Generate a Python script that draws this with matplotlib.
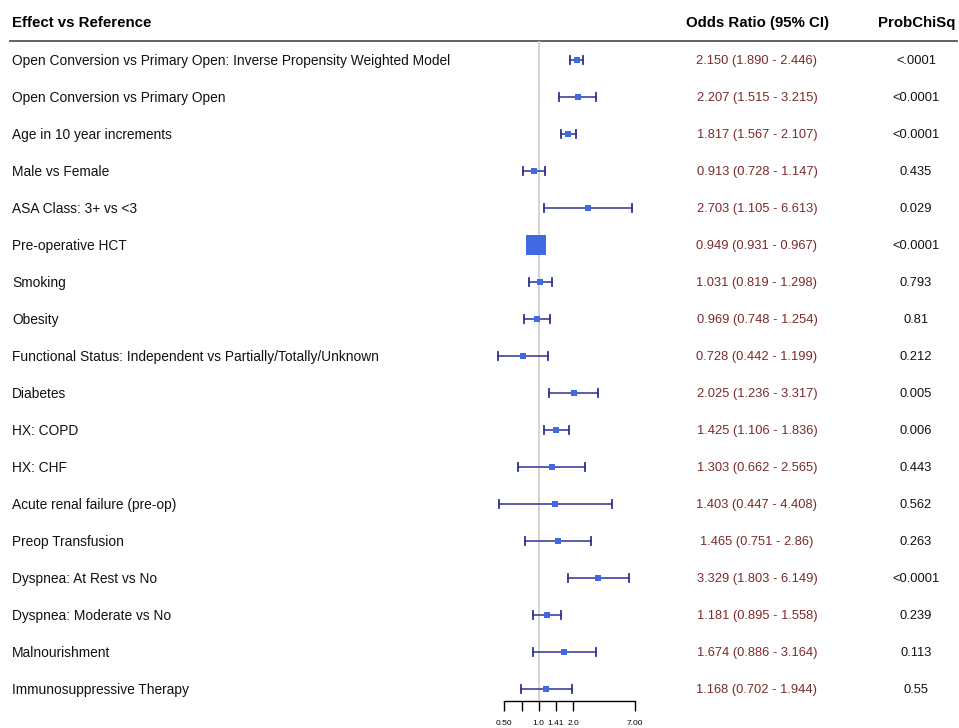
import numpy as np
import matplotlib
matplotlib.use("Agg")
import matplotlib.pyplot as plt
from matplotlib.lines import Line2D

plt.rcParams['font.family'] = ['Liberation Sans', 'DejaVu Sans']

labels = [
    "Open Conversion vs Primary Open: Inverse Propensity Weighted Model",
    "Open Conversion vs Primary Open",
    "Age in 10 year increments",
    "Male vs Female",
    "ASA Class: 3+ vs <3",
    "Pre-operative HCT",
    "Smoking",
    "Obesity",
    "Functional Status: Independent vs Partially/Totally/Unknown",
    "Diabetes",
    "HX: COPD",
    "HX: CHF",
    "Acute renal failure (pre-op)",
    "Preop Transfusion",
    "Dyspnea: At Rest vs No",
    "Dyspnea: Moderate vs No",
    "Malnourishment",
    "Immunosuppressive Therapy",
]
odds = [2.150, 2.207, 1.817, 0.913, 2.703, 0.949, 1.031, 0.969, 0.728, 2.025,
        1.425, 1.303, 1.403, 1.465, 3.329, 1.181, 1.674, 1.168]
lower = [1.890, 1.515, 1.567, 0.728, 1.105, 0.931, 0.819, 0.748, 0.442, 1.236,
         1.106, 0.662, 0.447, 0.751, 1.803, 0.895, 0.886, 0.702]
upper = [2.446, 3.215, 2.107, 1.147, 6.613, 0.967, 1.298, 1.254, 1.199, 3.317,
         1.836, 2.565, 4.408, 2.86, 6.149, 1.558, 3.164, 1.944]
or_text = ["2.150 (1.890 - 2.446)", "2.207 (1.515 - 3.215)", "1.817 (1.567 - 2.107)",
           "0.913 (0.728 - 1.147)", "2.703 (1.105 - 6.613)", "0.949 (0.931 - 0.967)",
           "1.031 (0.819 - 1.298)", "0.969 (0.748 - 1.254)", "0.728 (0.442 - 1.199)",
           "2.025 (1.236 - 3.317)", "1.425 (1.106 - 1.836)", "1.303 (0.662 - 2.565)",
           "1.403 (0.447 - 4.408)", "1.465 (0.751 - 2.86)", "3.329 (1.803 - 6.149)",
           "1.181 (0.895 - 1.558)", "1.674 (0.886 - 3.164)", "1.168 (0.702 - 1.944)"]
pvals = ["<.0001", "<0.0001", "<0.0001", "0.435", "0.029", "<0.0001", "0.793", "0.81",
         "0.212", "0.005", "0.006", "0.443", "0.562", "0.263", "<0.0001", "0.239",
         "0.113", "0.55"]
tick_vals = [0.5, 0.71, 1.0, 1.41, 2.0, 7.0]
tick_labels = ["0.50", "", "1.0", "1.41", "2.0", "7.00"]

W, H = 959, 728
fig = plt.figure(figsize=(W / 100, H / 100), dpi=100)

# background axes in pixel coordinates
bg = fig.add_axes([0, 0, 1, 1])
bg.set_xlim(0, W)
bg.set_ylim(H, 0)
bg.axis('off')

row_y0, row_dy = 60, 37
bg.text(12, 23, "Effect vs Reference", fontsize=10.8, fontweight='bold', va='center', ha='left')
bg.text(757, 23, "Odds Ratio (95% CI)", fontsize=10.8, fontweight='bold', va='center', ha='center')
bg.text(917, 23, "ProbChiSq", fontsize=10.8, fontweight='bold', va='center', ha='center')
bg.add_line(Line2D([10, 957], [41, 41], color='#555555', lw=1.3))

for i, (lab, ot, pv) in enumerate(zip(labels, or_text, pvals)):
    y = row_y0 + 1 + i * row_dy
    bg.text(12, y, lab, fontsize=9.9, va='center', ha='left', color='#111111')
    bg.text(757, y, ot, fontsize=9.3, va='center', ha='center', color='#7B2A2A')
    bg.text(916, y, pv, fontsize=9.3, va='center', ha='center', color='#111111')

# forest axes
px_per_log2 = 34.3
x_one = 538.7
xmin, xmax = 0.4, 8.0
left_px = x_one + np.log2(xmin) * px_per_log2
right_px = x_one + np.log2(xmax) * px_per_log2
top_px, bot_px = 41, 701
ax = fig.add_axes([left_px / W, 1 - bot_px / H, (right_px - left_px) / W, (bot_px - top_px) / H])
ax.patch.set_alpha(0)
ax.set_xscale('log')
ax.set_xlim(xmin, xmax)
ylo = (top_px - row_y0) / row_dy
yhi = (bot_px - row_y0) / row_dy
ax.set_ylim(yhi, ylo)

ax.axvline(1.0, color='#cccccc', lw=1.2, zorder=0)

n = len(odds)
for i in range(n):
    ax.plot([lower[i], upper[i]], [i, i], color='#2E3192', lw=1.3, alpha=0.85, zorder=2)
    for e in (lower[i], upper[i]):
        ax.plot([e, e], [i - 0.11, i + 0.11], color='#2E3192', lw=1.3, zorder=2)
    w = np.log(upper[i] / lower[i])
    px = float(np.clip(1.8 / w, 6.5, 20.0))
    ax.plot(odds[i], i, marker='s', color='#4169E1', markersize=px * 0.72,
            markeredgewidth=0, zorder=3)

for s in ['top', 'right', 'left']:
    ax.spines[s].set_visible(False)
ax.spines['bottom'].set_bounds(0.5, 7.0)
ax.spines['bottom'].set_linewidth(1.0)
ax.set_yticks([])
ax.set_xticks(tick_vals)
ax.set_xticklabels(tick_labels)
ax.xaxis.set_minor_locator(matplotlib.ticker.NullLocator())
ax.tick_params(axis='x', length=7.5, width=1.0, labelsize=6, pad=6)

fig.savefig("out.png", dpi=100)
